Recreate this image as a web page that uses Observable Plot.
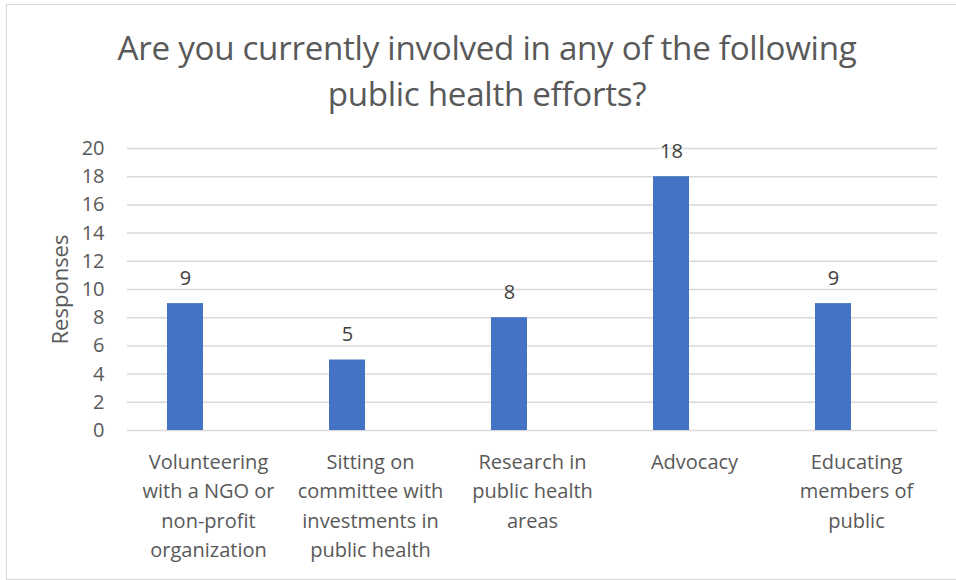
<!DOCTYPE html>
<html>
<head>
<meta charset="utf-8">
<script src="https://cdn.jsdelivr.net/npm/d3@7"></script>
<script src="https://cdn.jsdelivr.net/npm/@observablehq/plot@0.6"></script>
<style>
  html, body { margin: 0; padding: 0; background: #fff; }
  #wrap { position: relative; width: 956px; height: 580px; overflow: hidden; font-family: "Open Sans", sans-serif; }
  #border { position: absolute; left: 6px; top: 4px; width: 960px; height: 576px; border: 1px solid #d9d9d9; box-sizing: border-box; }
  #title { position: absolute; left: 0; top: 0; width: 974px; height: 130px; text-align: center; color: #595959;
           font-size: 33.2px; line-height: 46px; padding-top: 25px; box-sizing: border-box; letter-spacing: -0.3px; }
  #chart { position: absolute; left: 0; top: 130px; }
</style>
</head>
<body>
<div id="wrap">
  <div id="border"></div>
  <div id="title">Are you currently involved in any of the following<br>public health efforts?</div>
  <div id="chart"></div>
</div>
<script>
const categories = [
  "Volunteering\nwith a NGO or\nnon-profit\norganization",
  "Sitting on\ncommittee with\ninvestments in\npublic health",
  "Research in\npublic health\nareas",
  "Advocacy",
  "Educating\nmembers of\npublic"
];
const responses = [9, 5, 8, 18, 9];
const yTicks = [0, 2, 4, 6, 8, 10, 12, 14, 16, 18, 20];
const yLabel = "Responses";

const data = categories.map((c, i) => ({category: c, value: responses[i]}));

const plot = Plot.plot({
  width: 956,
  height: 450,
  marginTop: 18,
  marginBottom: 150,
  marginLeft: 127,
  marginRight: 19,
  style: {fontFamily: "'Open Sans', sans-serif", color: "#595959", background: "transparent", overflow: "visible"},
  x: {domain: categories, paddingInner: 0.778, paddingOuter: 0.389, align: 0.5, label: null},
  y: {domain: [0, 20], label: null},
  marks: [
    Plot.gridY(yTicks, {stroke: "#d9d9d9", strokeOpacity: 1, strokeWidth: 1.5}),
    Plot.axisY(yTicks, {tickSize: 0, tickPadding: 23, fontSize: 20, fill: "#595959", label: null}),
    Plot.axisX({tickSize: 0, tickPadding: 17, fontSize: 20, fill: "#595959", lineHeight: 1.48, label: null, textAnchor: "middle", lineAnchor: "top"}),
    Plot.barY(data, {x: "category", y: "value", fill: "#4472C4", dx: -23}),
    Plot.text(data, {x: "category", y: "value", text: d => String(d.value), dx: -23, dy: -25, fontSize: 20, fill: "#404040", lineAnchor: "middle"}),
    Plot.text([yLabel], {frameAnchor: "left", dx: -67, rotate: -90, fontSize: 22, fill: "#595959", textAnchor: "middle", lineAnchor: "middle", text: d => d})
  ]
});
document.getElementById("chart").appendChild(plot);
</script>
</body>
</html>
